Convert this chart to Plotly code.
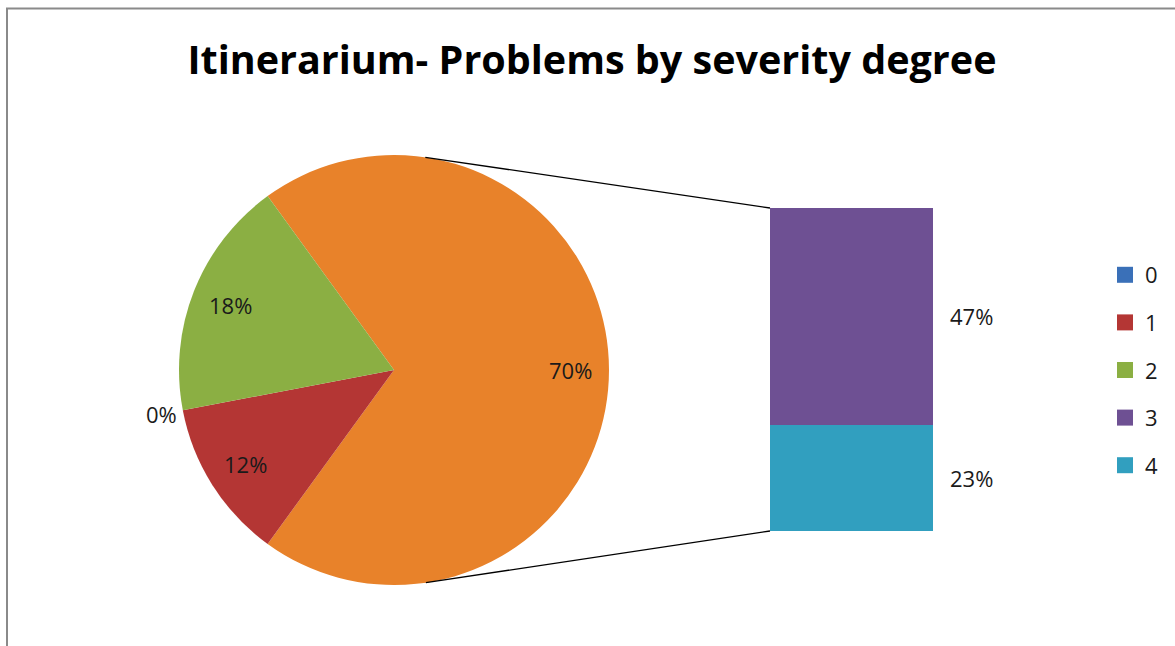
import math
import plotly.graph_objects as go

# Severity degree shares (%)
pie_labels = ["Other", "1", "0", "2"]
pie_values = [70, 12, 0, 18]
bar_labels = ["4", "3"]          # stacked bottom -> top
bar_values = [23, 47]
legend_labels = ["0", "1", "2", "3", "4"]

colors = {
    "0": "#3A70B8",
    "1": "#B43634",
    "2": "#8BAF43",
    "3": "#6E5093",
    "4": "#319FBF",
    "Other": "#E8822A",
}

W, H = 1175, 646
FONT = "'Open Sans', Lato, sans-serif"
TXT = dict(family=FONT, size=22, color="#1a1a1a")

# geometry (paper fractions)
pie_dom_x = [179 / W, 609 / W]
pie_dom_y = [61 / H, 491 / H]
bar_dom_x = [770 / W, 933 / W]
bar_dom_y = [115 / H, 438 / H]
rotation = -36

fig = go.Figure()

fig.add_trace(go.Pie(
    labels=pie_labels,
    values=pie_values,
    sort=False,
    direction="clockwise",
    rotation=rotation,
    marker=dict(colors=[colors[l] for l in pie_labels], line=dict(width=0)),
    textinfo="none",
    domain=dict(x=pie_dom_x, y=pie_dom_y),
    showlegend=False,
    hoverinfo="label+percent",
))

# stacked bar for the split-out slice
for lab, val in zip(bar_labels, bar_values):
    fig.add_trace(go.Bar(
        x=[0], y=[val], width=[1],
        name=lab,
        marker=dict(color=colors[lab], line=dict(width=0)),
        xaxis="x", yaxis="y",
        showlegend=False,
    ))

# legend entries
for i, lab in enumerate(legend_labels):
    fig.add_trace(go.Scatter(
        x=[None], y=[None], name=lab, mode="markers",
        marker=dict(symbol="square", size=16, color=colors[lab]),
        xaxis="x", yaxis="y",
        legendgroup=lab,
    ))

total_bar = sum(bar_values)

# pie centre/radius in pixels
cx = (pie_dom_x[0] + pie_dom_x[1]) / 2 * W
cy = (1 - (pie_dom_y[0] + pie_dom_y[1]) / 2) * H
r = (pie_dom_x[1] - pie_dom_x[0]) * W / 2

bx0, bx1 = bar_dom_x[0] * W, bar_dom_x[1] * W
by_top = (1 - bar_dom_y[1]) * H
by_bot = (1 - bar_dom_y[0]) * H


def tangent_point(px, py, upper):
    # point on the pie circle whose tangent passes through (px, py)
    dx, dy = px - cx, cy - py
    d = math.hypot(dx, dy)
    phi = math.atan2(dy, dx)
    a = math.acos(r / d)
    ang = phi + a if upper else phi - a
    return cx + r * math.cos(ang), cy - r * math.sin(ang)


shapes = []
for (px, py, up) in [(bx0, by_top, True), (bx0, by_bot, False)]:
    tx, ty = tangent_point(px, py, up)
    shapes.append(dict(type="line", xref="paper", yref="paper",
                       x0=tx / W, y0=1 - ty / H, x1=px / W, y1=1 - py / H,
                       line=dict(color="#000000", width=1.3)))

# chart frame
shapes.append(dict(type="rect", xref="paper", yref="paper",
                   x0=7 / W, y0=-0.05, x1=1.05, y1=1 - 8.5 / H,
                   line=dict(color="#8a8a8a", width=2), fillcolor="rgba(0,0,0,0)",
                   layer="below"))

annotations = []

# pie slice labels at the mid-angle of each slice
total = sum(pie_values)
start = 90 - rotation
acc = 0
for lab, val in zip(pie_labels, pie_values):
    if val == 0:
        ang = math.radians(start - 360 * (acc / total))
        rr = 1.1
    else:
        ang = math.radians(start - 360 * ((acc + val / 2) / total))
        rr = 0.82
    lx = cx + r * rr * math.cos(ang)
    ly = cy - r * rr * math.sin(ang)
    annotations.append(dict(
        x=lx / W, y=1 - ly / H, xref="paper", yref="paper",
        text=f"{val / total * 100:.0f}%", showarrow=False,
        xanchor="center", yanchor="middle", font=TXT,
    ))
    acc += val

# bar segment labels, to the right of the bar
cum = 0
for lab, val in zip(bar_labels, bar_values):
    annotations.append(dict(
        x=(bx1 + 15) / W, y=cum + val / 2, xref="paper", yref="y",
        text=f"{val}%", showarrow=False, xanchor="left", yanchor="middle",
        font=TXT,
    ))
    cum += val

fig.update_layout(
    width=W, height=H,
    margin=dict(l=0, r=0, t=0, b=0),
    paper_bgcolor="white",
    plot_bgcolor="white",
    barmode="stack",
    title=dict(text="<b>Itinerarium- Problems by severity degree</b>",
               x=592 / W, xanchor="center", y=1 - 60 / H, yanchor="middle",
               font=dict(family=FONT, size=39.5, color="#000000")),
    xaxis=dict(domain=bar_dom_x, range=[-0.5, 0.5], visible=False, fixedrange=True),
    yaxis=dict(domain=bar_dom_y, range=[0, total_bar], visible=False, fixedrange=True),
    legend=dict(x=1105 / W, y=1 - 254 / H, xanchor="left", yanchor="top",
                traceorder="grouped", tracegroupgap=16,
                font=dict(family=FONT, size=22, color="#1a1a1a"),
                itemwidth=30, bgcolor="rgba(0,0,0,0)"),
    shapes=shapes,
    annotations=annotations,
    showlegend=True,
)

fig.write_html("out.html")
